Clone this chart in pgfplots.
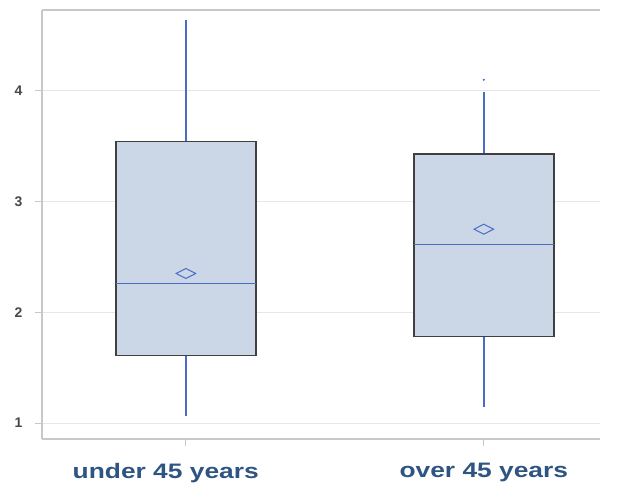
\documentclass[border=0pt]{standalone}
\usepackage{pgfplots}
\pgfplotsset{compat=1.18}
\usepgfplotslibrary{statistics}
\usetikzlibrary{calc}
\usepackage{fontspec}
\setmainfont{Liberation Sans}
\definecolor{boxfill}{HTML}{CBD6E6}
\definecolor{whisk}{HTML}{4A6CC6}
\definecolor{edge}{HTML}{404040}
\definecolor{lab}{HTML}{2E5581}
\definecolor{gridc}{HTML}{E6E6E6}
\definecolor{axc}{HTML}{C8C8C8}
\pgfplotsset{
  mybox/.style={
    boxplot/draw direction=y,
    boxplot/whisker extend=0,
    boxplot/box extend=0.47,
    boxplot/every box/.style={draw=edge, line width=1.4pt, fill=boxfill},
    boxplot/every whisker/.style={draw=whisk, line width=1.4pt},
    boxplot/every median/.style={draw=whisk, line width=1pt},
  }
}
\begin{document}
\begin{tikzpicture}
\begin{axis}[
  scale only axis,
  width=558bp, height=429bp,
  xmin=0.517, xmax=2.39,
  ymin=0.855, ymax=4.73,
  axis x line*=bottom, axis y line*=left,
  axis line style={axc, line width=1.2pt},
  xtick={1,2}, xticklabels={{under 45 years\hspace*{32bp}}, over 45 years},
  ytick={1,2,3,4},
  ymajorgrids, grid style={gridc, line width=0.8pt},
  tick style={axc, line width=0.8pt},
  major tick length=7bp,
  tick align=outside,
  x tick label style={font=\fontsize{21}{24}\selectfont\bfseries, text=lab, yshift=-14bp, xscale=1.26},
  y tick label style={font=\fontsize{14}{16}\selectfont\bfseries, text=black!72, xshift=-9bp},
  /pgf/number format/assume math mode=true,
]
\addplot[mybox, boxplot prepared={lower whisker=1.06, lower quartile=1.61, median=2.256,
    upper quartile=3.54, upper whisker=4.64, draw position=1}]
  coordinates {};
\addplot[mybox, boxplot prepared={lower whisker=1.14, lower quartile=1.78, median=2.61,
    upper quartile=3.43, upper whisker=3.99, draw position=2}]
  coordinates {};
\addplot[only marks, mark=diamond, mark size=5bp,
  mark options={draw=whisk, fill=boxfill, line width=1pt, xscale=2.6}]
  coordinates {(1,2.35) (2,2.75)};
\addplot[only marks, mark=*, mark size=0.8pt, whisk]
  coordinates {(2,4.10)};
\draw[axc, line width=1.2pt] (rel axis cs:0,1) -- (rel axis cs:1,1);
\end{axis}
\pgfresetboundingbox
\path ($(current axis.south west)+(-42bp,-49bp)$) rectangle ($(current axis.north east)+(33bp,10bp)$);
\end{tikzpicture}
\end{document}
